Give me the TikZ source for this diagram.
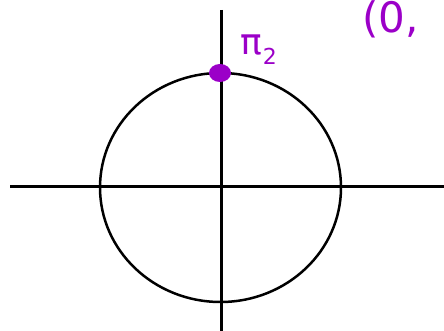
\documentclass[tikz,border=0pt]{standalone}
\usepackage{fontspec}
\setmainfont{DejaVu Sans}
\definecolor{pen}{RGB}{155,0,200}
\begin{document}
\begin{tikzpicture}[x=1pt,y=-1pt,
  axis/.style={line width=3pt,black},
  curve/.style={line width=2.5pt,black},
  ink/.style={text=pen,inner sep=0pt}]
\useasboundingbox (0,0) rectangle (444,331);
\clip (0,0) rectangle (444,331);
\coordinate (xl) at (10,187);
\coordinate (xr) at (444,187);
\coordinate (yt) at (221,10);
\coordinate (yb) at (221,331);
\coordinate (o) at (220.5,187.5);
\draw[axis] (xl) -- (xr);
\draw[axis] (yt) -- (yb);
\draw[curve] (o) ellipse [x radius=120.5, y radius=114.5];
\fill[pen] (220,73) ellipse [x radius=11, y radius=9];
\node[ink,font=\fontsize{36}{36}\selectfont,anchor=base west] (pi) at (240,55) {π\kern1pt\raisebox{-10pt}{\fontsize{22}{22}\selectfont 2}};
\node[ink,font=\fontsize{42}{42}\selectfont,anchor=north west] (pt) at (362,0) {(0,};
\end{tikzpicture}
\end{document}
